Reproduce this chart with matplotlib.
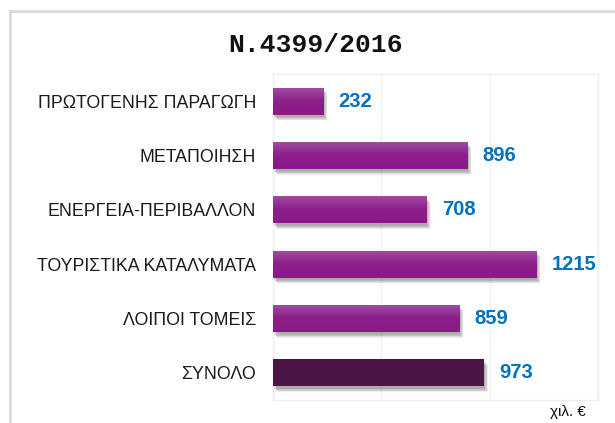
import matplotlib
matplotlib.use("Agg")
import numpy as np
import matplotlib.pyplot as plt
import matplotlib.patheffects as pe
from matplotlib.lines import Line2D
from matplotlib.colors import LinearSegmentedColormap

categories = ["ΠΡΩΤΟΓΕΝΗΣ ΠΑΡΑΓΩΓΗ", "ΜΕΤΑΠΟΙΗΣΗ", "ΕΝΕΡΓΕΙΑ-ΠΕΡΙΒΑΛΛΟΝ",
              "ΤΟΥΡΙΣΤΙΚΑ ΚΑΤΑΛΥΜΑΤΑ", "ΛΟΙΠΟΙ ΤΟΜΕΙΣ", "ΣΥΝΟΛΟ"]
values = [232, 896, 708, 1215, 859, 973]
colors = ["#8E1F8C"] * 5 + ["#4B1545"]
gradient = [True] * 5 + [False]
title = "N.4399/2016"
unit = "χιλ. €"

fig = plt.figure(figsize=(6.15, 4.23), dpi=100)
fig.patch.set_facecolor("white")

# outer frame
fig.add_artist(Line2D([10/615, 10/615], [0, 1 - 11/423], transform=fig.transFigure,
                      color="#d9d9d9", lw=2))
fig.add_artist(Line2D([10/615, 1], [1 - 11/423, 1 - 11/423], transform=fig.transFigure,
                      color="#d9d9d9", lw=2))

ax = fig.add_axes([273/615, 1 - 400/423, 325/615, (400 - 74)/423])
y = list(range(len(categories)))
bars = ax.barh(y, values, height=0.5, color=colors, zorder=3)
shadow_fx = [pe.SimplePatchShadow(offset=(o, -o - 1), shadow_rgbFace="#444444", alpha=0.09)
             for o in (0.5, 1.0, 1.5, 2.0, 2.5, 3.0)]
for b in bars:
    b.set_path_effects(shadow_fx + [pe.Normal()])

cmap = LinearSegmentedColormap.from_list("purp", ["#A14FA1", "#8D1E8A", "#8A1A87"])
grad = np.linspace(0, 1, 64).reshape(-1, 1)
for b, g in zip(bars, gradient):
    if g:
        x0, y0 = b.get_x(), b.get_y()
        w, h = b.get_width(), b.get_height()
        im = ax.imshow(grad, cmap=cmap, aspect="auto", extent=(x0, x0 + w, y0 + h, y0),
                       zorder=4, interpolation="bilinear")
        im.set_clip_path(b)

ax.set_xlim(0, 1500)
ax.set_ylim(len(categories) - 0.5, -0.5)
ax.set_xticks([0, 500, 1000, 1500])
ax.xaxis.grid(True, color="#f0f0f0", lw=1, zorder=0)
ax.tick_params(axis="x", labelbottom=False, length=0)
ax.tick_params(axis="y", length=0, pad=12)
ax.set_yticks(y)
ax.set_yticklabels(categories, fontsize=12.8, family="Liberation Sans", color="#1a1a1a")
for s in ax.spines.values():
    s.set_color("#eeeeee")
    s.set_linewidth(1)

for yi, v in zip(y, values):
    ax.annotate(str(v), xy=(v, yi), xytext=(11, 0), textcoords="offset points",
                va="center", ha="left", fontsize=14.5, fontweight="bold",
                family="Liberation Sans", color="#0070C0", zorder=5)

fig.text(316/615, 1 - 45/423, title, ha="center", va="center", fontsize=19,
         fontweight="bold", family="Liberation Mono", color="#111111")
fig.text(568/615, 1 - 412/423, unit, ha="center", va="center", fontsize=11,
         family="Liberation Sans", color="#111111")

fig.savefig("out.png", dpi=100, facecolor="white")
